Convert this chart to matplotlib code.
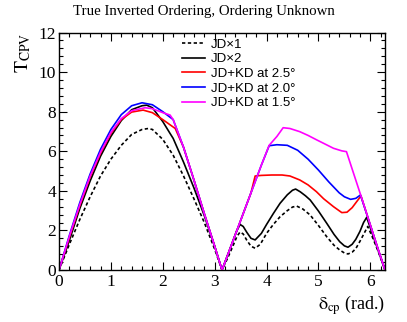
import numpy as np
import matplotlib.pyplot as plt
from matplotlib.ticker import MultipleLocator, AutoMinorLocator

plt.rcParams['font.family'] = ['Liberation Serif', 'DejaVu Serif']
plt.rcParams['mathtext.fontset'] = 'stix'

# ---- data (delta_cp in rad., T_CPV) ----
x_jd1 = [0, 0.2, 0.4, 0.6, 0.8, 1.0, 1.2, 1.4, 1.6, 1.72, 1.8, 2.0, 2.2, 2.4, 2.6, 2.8, 3.0, 3.1416,
         3.25, 3.35, 3.43, 3.49, 3.55, 3.62, 3.7, 3.78, 3.88, 4.0, 4.13, 4.26, 4.4, 4.5, 4.58, 4.7,
         4.84, 5.0, 5.16, 5.3, 5.41, 5.5, 5.57, 5.65, 5.72, 5.8, 5.88, 5.95, 6.05, 6.15, 6.2832]
y_jd1 = [0, 1.3, 2.55, 3.7, 4.75, 5.6, 6.3, 6.85, 7.1, 7.15, 7.1, 6.6, 5.8, 4.75, 3.6, 2.4, 1.05, 0,
         0.6, 1.2, 1.7, 1.92, 1.82, 1.5, 1.2, 1.1, 1.3, 1.85, 2.3, 2.69, 3.0, 3.18, 3.23, 3.08,
         2.78, 2.25, 1.68, 1.25, 1.01, 0.86, 0.81, 0.9, 1.08, 1.45, 1.85, 2.2, 1.6, 0.95, 0]

x_jd2 = [0, 0.2, 0.4, 0.6, 0.8, 1.0, 1.2, 1.4, 1.6, 1.69, 1.8, 2.0, 2.14, 2.2, 2.4, 2.6, 2.8, 3.0, 3.1416,
         3.25, 3.35, 3.42, 3.49, 3.55, 3.62, 3.7, 3.78, 3.9, 4.0, 4.13, 4.26, 4.4, 4.5, 4.56, 4.65, 4.75,
         4.84, 5.0, 5.16, 5.3, 5.41, 5.5, 5.57, 5.65, 5.72, 5.8, 5.87, 5.93, 6.0, 6.1, 6.2, 6.2832]
y_jd2 = [0, 1.5, 3.1, 4.5, 5.75, 6.75, 7.55, 8.1, 8.3, 8.33, 8.2, 7.5, 6.9, 6.65, 5.45, 4.15, 2.75, 1.2, 0,
         0.75, 1.45, 1.95, 2.3, 2.2, 1.9, 1.6, 1.52, 1.85, 2.3, 2.85, 3.37, 3.8, 4.03, 4.09, 3.95, 3.75,
         3.54, 2.98, 2.36, 1.8, 1.43, 1.22, 1.15, 1.3, 1.55, 1.95, 2.4, 2.66, 2.13, 1.37, 0.63, 0]

x_kd25 = [0, 0.2, 0.4, 0.6, 0.8, 1.0, 1.2, 1.4, 1.62, 1.8, 2.0, 2.24, 2.4, 2.6, 2.8, 3.0, 3.1416,
          3.3, 3.5, 3.7, 3.78, 3.9, 4.1, 4.3, 4.45, 4.64, 4.8, 4.96, 5.1, 5.29, 5.45, 5.55, 5.65,
          5.75, 5.82, 6.0, 6.15, 6.2832]
y_kd25 = [0, 1.65, 3.25, 4.7, 5.9, 6.9, 7.6, 7.98, 8.08, 7.95, 7.6, 7.15, 6.2, 4.55, 2.85, 1.2, 0,
          1.1, 2.5, 3.9, 4.75, 4.78, 4.8, 4.8, 4.75, 4.55, 4.3, 3.96, 3.6, 3.2, 2.9, 2.92, 3.15,
          3.5, 3.74, 2.27, 1.05, 0]

x_kd20 = [0, 0.2, 0.4, 0.6, 0.8, 1.0, 1.2, 1.4, 1.6, 1.8, 2.0, 2.2, 2.4, 2.6, 2.8, 3.0, 3.1416,
          3.3, 3.5, 3.7, 3.9, 4.05, 4.2, 4.4, 4.6, 4.8, 5.0, 5.2, 5.4, 5.5, 5.62, 5.72, 5.81,
          6.0, 6.15, 6.2832]
y_kd20 = [0, 1.75, 3.4, 4.85, 6.1, 7.1, 7.85, 8.3, 8.45, 8.35, 8.0, 7.6, 6.2, 4.55, 2.85, 1.2, 0,
          1.1, 2.5, 3.9, 5.3, 6.28, 6.33, 6.3, 6.05, 5.6, 5.05, 4.45, 3.9, 3.7, 3.57, 3.62, 3.79,
          2.27, 1.05, 0]

x_kd15 = [0, 0.2, 0.4, 0.6, 0.8, 1.0, 1.2, 1.4, 1.66, 1.8, 2.0, 2.14, 2.2, 2.4, 2.6, 2.8, 3.0, 3.1416,
          3.3, 3.5, 3.7, 3.9, 4.05, 4.2, 4.32, 4.45, 4.64, 4.8, 4.97, 5.1, 5.29, 5.45, 5.54,
          5.7, 5.85, 6.0, 6.15, 6.2832]
y_kd15 = [0, 1.7, 3.3, 4.75, 5.95, 6.95, 7.65, 8.05, 8.2, 8.15, 7.95, 7.83, 7.6, 6.2, 4.55, 2.85, 1.2, 0,
          1.1, 2.5, 3.9, 5.3, 6.3, 6.75, 7.19, 7.15, 6.99, 6.8, 6.57, 6.4, 6.15, 6.02, 5.98,
          4.7, 3.5, 2.27, 1.05, 0]

labels = ['JD\u00d71', 'JD\u00d72', 'JD+KD at 2.5\u00b0', 'JD+KD at 2.0\u00b0', 'JD+KD at 1.5\u00b0']

fig = plt.figure(figsize=(4.07, 3.22), dpi=100)
ax = fig.add_axes([0.145, 0.1615, 0.801, 0.7375])

ax.plot(x_jd1, y_jd1, color='black', lw=1.2, ls=(0, (2, 1.5)), label=labels[0])
ax.plot(x_jd2, y_jd2, color='black', lw=1.2, label=labels[1])
ax.plot(x_kd25, y_kd25, color='#ff0000', lw=1.2, label=labels[2])
ax.plot(x_kd20, y_kd20, color='#0000ff', lw=1.2, label=labels[3])
ax.plot(x_kd15, y_kd15, color='#ff00ff', lw=1.2, label=labels[4])

ax.set_xlim(0, 2 * np.pi)
ax.set_ylim(0, 12)
ax.xaxis.set_major_locator(MultipleLocator(1))
ax.xaxis.set_minor_locator(AutoMinorLocator(5))
ax.yaxis.set_major_locator(MultipleLocator(2))
ax.yaxis.set_minor_locator(AutoMinorLocator(5))
ax.tick_params(which='both', direction='in', top=True, right=True, labelsize=12.5)
ax.tick_params(which='major', length=6, width=0.8)
ax.tick_params(which='minor', length=3, width=0.8)
ax.tick_params(axis='x', pad=3)
ax.tick_params(axis='y', pad=2)
for s in ax.spines.values():
    s.set_linewidth(1.0)

ax.set_xlabel(r'$\mathrm{\delta_{cp}}$ (rad.)', fontsize=13, ha='right', x=1.0, labelpad=2)
ax.set_ylabel(r'$\mathrm{T_{CPV}}$', fontsize=14, ha='right', y=1.0, labelpad=4)

leg = ax.legend(loc='upper left', bbox_to_anchor=(0.376, 0.975), frameon=False,
                prop={'family': 'Liberation Sans', 'size': 9.5},
                handlelength=1.75, handletextpad=0.5, labelspacing=0.18,
                borderpad=0, borderaxespad=0, alignment='left')

fig.text(0.5, 0.963, 'True Inverted Ordering, Ordering Unknown', ha='center', va='center',
         fontsize=10.7)

fig.savefig('out.png', dpi=100)
